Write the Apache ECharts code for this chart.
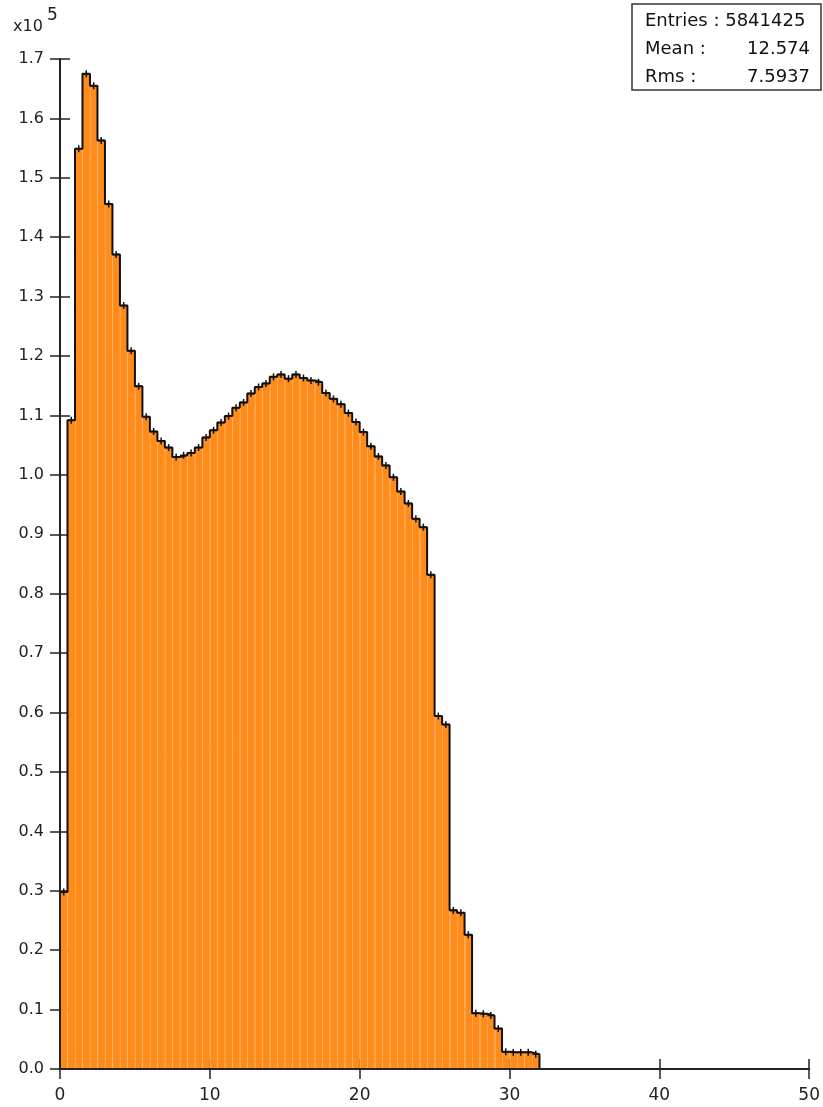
<!DOCTYPE html>
<html><head><meta charset="utf-8">
<script src="https://cdn.jsdelivr.net/npm/echarts@6/dist/echarts.min.js"></script>
<style>html,body{margin:0;padding:0;background:#fff}#c{width:823px;height:1107px}</style>
</head><body><div id="c"></div><script>
// ---- data (values in units of 10^5 entries) ----
const BIN_START = 0;
const BIN_WIDTH = 0.5;
const binValues = [
  0.298, 1.092, 1.549, 1.675, 1.655, 1.563, 1.456, 1.371, 1.285, 1.209,
  1.149, 1.098, 1.073, 1.057, 1.046, 1.030, 1.033, 1.037, 1.046, 1.063,
  1.075, 1.088, 1.099, 1.113, 1.122, 1.137, 1.148, 1.154, 1.165, 1.169,
  1.162, 1.169, 1.163, 1.159, 1.156, 1.138, 1.128, 1.119, 1.104, 1.089,
  1.072, 1.048, 1.031, 1.016, 0.996, 0.972, 0.952, 0.926, 0.912, 0.832,
  0.594, 0.580, 0.267, 0.263, 0.226, 0.094, 0.093, 0.090, 0.068, 0.029,
  0.028, 0.028, 0.028, 0.025, 0, 0, 0, 0, 0, 0,
  0, 0, 0, 0, 0, 0, 0, 0, 0, 0,
  0, 0, 0, 0, 0, 0, 0, 0, 0, 0,
  0, 0, 0, 0, 0, 0, 0, 0, 0, 0
];
const X_MIN = 0, X_MAX = 50, X_STEP = 10;
const Y_MIN = 0, Y_MAX = 1.7, Y_STEP = 0.1;
const yScaleLabel = ['x10', '5'];
const statNames = ['Entries : 5841425', 'Mean :', 'Rms :'];
const statValues = ['', '12.574', '7.5937'];

// ---- chart ----
const FONT = "'DejaVu Sans', sans-serif";
const AX = '#222';
const FILL = '#ff8c1a';
const STRIPE = 'rgba(255,195,130,0.45)';

const binData = binValues.map((v, i) => [BIN_START + i * BIN_WIDTH, BIN_START + (i + 1) * BIN_WIDTH, v]);
const stepData = [[BIN_START, 0]]
  .concat(binValues.map((v, i) => [BIN_START + i * BIN_WIDTH, v]))
  .concat([[BIN_START + binValues.length * BIN_WIDTH, 0]]);

const chart = echarts.init(document.getElementById('c'), null, {renderer: 'canvas'});

function renderBin(params, api) {
  const x0 = api.value(0), x1 = api.value(1), v = api.value(2);
  const pTop = api.coord([x0, v]);
  const pBot = api.coord([x1, 0]);
  const children = [];
  if (v > 0) {
    children.push({type: 'rect', shape: {x: pTop[0], y: pTop[1], width: pBot[0] - pTop[0], height: pBot[1] - pTop[1]},
      style: {fill: FILL}});
    if (params.dataIndex > 0) {
      children.push({type: 'line', shape: {x1: Math.round(pTop[0]) + 0.5, y1: pTop[1] + 2, x2: Math.round(pTop[0]) + 0.5, y2: pBot[1] - 1},
        style: {stroke: STRIPE, lineWidth: 1}});
    }
    const cx = (pTop[0] + pBot[0]) / 2, cy = pTop[1];
    children.push({type: 'line', shape: {x1: cx - 3.5, y1: cy, x2: cx + 3.5, y2: cy}, style: {stroke: '#111', lineWidth: 1.5}});
    children.push({type: 'line', shape: {x1: cx, y1: cy - 3.5, x2: cx, y2: cy + 3.5}, style: {stroke: '#111', lineWidth: 1.5}});
  }
  return {type: 'group', children};
}

const labelStyle = {fontFamily: FONT, fontSize: 16, color: '#222'};

const option = {
  animation: false,
  backgroundColor: '#fff',
  grid: {left: 60, right: 13, top: 59, bottom: 38, containLabel: false},
  xAxis: [
    {type: 'value', min: X_MIN, max: X_MAX, interval: X_STEP, position: 'bottom', z: 5,
      axisLine: {show: true, onZero: false, lineStyle: {color: AX, width: 2}},
      axisTick: {show: true, inside: false, length: 10, lineStyle: {color: AX, width: 1.5}},
      axisLabel: Object.assign({margin: 18}, labelStyle, {fontSize: 17}),
      splitLine: {show: false}},
    {type: 'value', min: X_MIN, max: X_MAX, interval: X_STEP, position: 'bottom', z: 0,
      axisLine: {show: false, onZero: false},
      axisTick: {show: true, inside: true, length: 10, lineStyle: {color: AX, width: 1.5}},
      axisLabel: {show: false}, splitLine: {show: false}}
  ],
  yAxis: [
    {type: 'value', min: Y_MIN, max: Y_MAX, interval: Y_STEP, position: 'left', z: 5,
      axisLine: {show: true, onZero: false, lineStyle: {color: AX, width: 2}},
      axisTick: {show: true, inside: false, length: 10, lineStyle: {color: AX, width: 1.5}},
      axisLabel: Object.assign({margin: 16, formatter: v => v.toFixed(1)}, labelStyle),
      splitLine: {show: false}},
    {type: 'value', min: Y_MIN, max: Y_MAX, interval: Y_STEP, position: 'left', z: 0,
      axisLine: {show: false, onZero: false},
      axisTick: {show: true, inside: true, length: 10, lineStyle: {color: AX, width: 1.5}},
      axisLabel: {show: false}, splitLine: {show: false}}
  ],
  series: [
    {type: 'custom', xAxisIndex: 0, yAxisIndex: 0, z: 2, renderItem: renderBin, data: binData,
      encode: {x: [0, 1], y: 2}, clip: true},
    {type: 'line', xAxisIndex: 0, yAxisIndex: 0, z: 3, step: 'end', data: stepData, showSymbol: false, symbol: 'none',
      lineStyle: {color: '#111', width: 2}, silent: true}
  ],
  graphic: [
    {type: 'text', style: {x: 13, y: 27, text: yScaleLabel[0], font: '16px ' + FONT, fill: '#222', verticalAlign: 'middle'}},
    {type: 'text', style: {x: 47, y: 16, text: yScaleLabel[1], font: '17px ' + FONT, fill: '#222', verticalAlign: 'middle'}},
    {type: 'rect', shape: {x: 632, y: 4, width: 189, height: 86}, style: {fill: '#fff', stroke: '#333', lineWidth: 1.5}, z: 10},
    {type: 'text', z: 11, style: {x: 645, y: 21.5, text: statNames[0], font: '18px ' + FONT, fill: '#111', align: 'left', verticalAlign: 'middle'}},
    {type: 'text', z: 11, style: {x: 645, y: 49.5, text: statNames[1], font: '18px ' + FONT, fill: '#111', align: 'left', verticalAlign: 'middle'}},
    {type: 'text', z: 11, style: {x: 810, y: 49.5, text: statValues[1], font: '18px ' + FONT, fill: '#111', align: 'right', verticalAlign: 'middle'}},
    {type: 'text', z: 11, style: {x: 645, y: 77.5, text: statNames[2], font: '18px ' + FONT, fill: '#111', align: 'left', verticalAlign: 'middle'}},
    {type: 'text', z: 11, style: {x: 810, y: 77.5, text: statValues[2], font: '18px ' + FONT, fill: '#111', align: 'right', verticalAlign: 'middle'}}
  ]
};
chart.setOption(option);
</script></body></html>
